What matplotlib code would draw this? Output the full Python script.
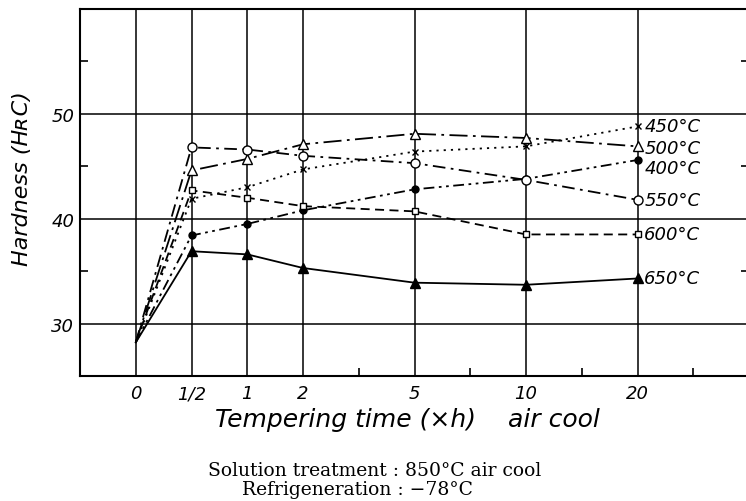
import numpy as np
import matplotlib
matplotlib.use("Agg")
import matplotlib.pyplot as plt
from matplotlib.ticker import FixedLocator

# tempering time categories (placed on an uneven grid like the original)
time_labels = ["0", "1/2", "1", "2", "5", "10", "20"]
time_pos = [0, 1, 2, 3, 5, 7, 9]

# hardness HRC for each tempering temperature
temps = ["400°C", "450°C", "500°C", "550°C", "600°C", "650°C"]
hrc_400 = [28.2, 38.4, 39.5, 40.8, 42.8, 43.8, 45.6]
hrc_450 = [28.2, 41.9, 43.0, 44.7, 46.4, 46.9, 48.8]
hrc_500 = [28.2, 44.6, 45.7, 47.1, 48.1, 47.7, 46.9]
hrc_550 = [28.2, 46.8, 46.6, 46.0, 45.3, 43.7, 41.8]
hrc_600 = [28.2, 42.7, 42.0, 41.2, 40.7, 38.5, 38.5]
hrc_650 = [28.2, 36.9, 36.6, 35.3, 33.9, 33.7, 34.3]

series = [hrc_400, hrc_450, hrc_500, hrc_550, hrc_600, hrc_650]
styles = [
    dict(marker="o", mfc="black", ls=(0, (6, 2.5, 1.5, 2.5, 1.5, 2.5)), ms=5),
    dict(marker="x", mfc="black", ls=(0, (1.2, 2.8)), ms=4.5),
    dict(marker="^", mfc="white", ls=(0, (10, 3, 1.5, 3)), ms=6.5),
    dict(marker="o", mfc="white", ls=(0, (7, 3, 1.5, 3)), ms=6.5),
    dict(marker="s", mfc="white", ls=(0, (5, 3)), ms=5),
    dict(marker="^", mfc="black", ls="-", ms=6.5),
]
# small vertical nudges so the end labels don't collide
label_nudge = [-0.8, 0.0, -0.2, 0.0, 0.0, 0.0]

hand = dict(family="DejaVu Sans", style="italic")

fig = plt.figure(figsize=(7.46, 5.02), dpi=100)
ax = fig.add_axes([80 / 746, 125 / 502, 669 / 746, 367 / 502])

for vals, st, name, dy in zip(series, styles, temps, label_nudge):
    ax.plot(time_pos, vals, color="black", lw=1.3, linestyle=st["ls"],
            marker=st["marker"], ms=st["ms"], mfc=st["mfc"], mec="black",
            mew=1.0, markevery=list(range(1, len(vals))), clip_on=False)
    ax.text(time_pos[-1] + 0.12, vals[-1] + dy, name, fontsize=13,
            va="center", ha="left", **hand)

ax.set_xlim(-1, 11)
ax.set_ylim(25, 60)

ax.xaxis.set_major_locator(FixedLocator(time_pos))
ax.set_xticklabels(time_labels, fontsize=13, **hand)
ax.xaxis.set_minor_locator(FixedLocator([4, 6, 8, 10]))
ax.yaxis.set_major_locator(FixedLocator([30, 40, 50]))
ax.set_yticklabels(["30", "40", "50"], fontsize=13, **hand)
ax.yaxis.set_minor_locator(FixedLocator([35, 45, 55]))

ax.tick_params(axis="x", which="major", length=0, pad=6)
ax.tick_params(axis="y", which="major", length=0, pad=4)
ax.tick_params(which="minor", direction="in", length=6, width=1.2,
               left=True, right=True, bottom=True)

ax.grid(True, which="major", color="black", lw=1.1)
for sp in ["left", "top", "bottom"]:
    ax.spines[sp].set_linewidth(1.5)
ax.spines["right"].set_visible(False)

ax.set_ylabel("Hardness (HʀC)", fontsize=16, **hand)
ax.yaxis.set_label_coords(-0.072, 0.54)
ax.set_xlabel("Tempering time (×h)    air cool", fontsize=18, **hand)
ax.xaxis.set_label_coords(0.49, -0.085)

fig.text(208 / 746, 1 - 471 / 502, "Solution treatment : 850°C air cool",
         family="DejaVu Serif", fontsize=13.5, va="center", ha="left")
fig.text(242 / 746, 1 - 490 / 502, "Refrigeneration : \u221278°C",
         family="DejaVu Serif", fontsize=13.5, va="center", ha="left")

fig.savefig("out.png", dpi=100)
